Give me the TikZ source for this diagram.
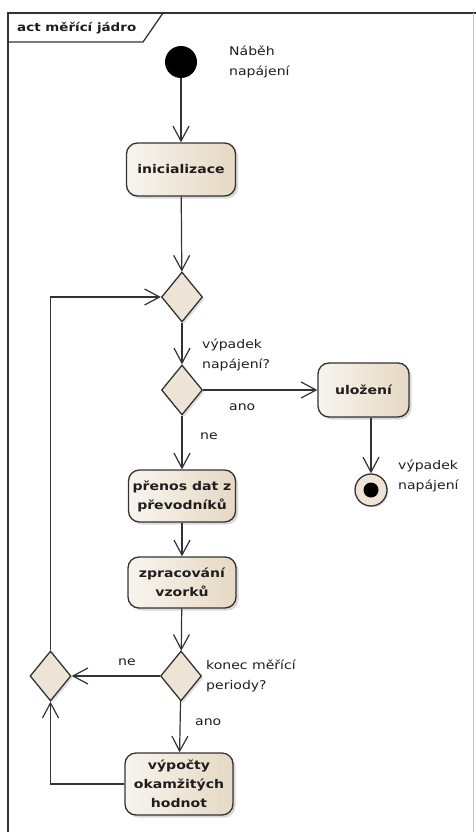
\documentclass[tikz,border=0pt]{standalone}
\usepackage{fontspec}
\setmainfont{DejaVu Sans}[FakeStretch=1.17]
\usetikzlibrary{arrows.meta,shapes.geometric,shadows}

\definecolor{actlight}{HTML}{F8F4EE}
\definecolor{actdark}{HTML}{E6D9C4}
\definecolor{actfill}{HTML}{EEE4D5}
\definecolor{edgecol}{HTML}{333333}
\definecolor{ink}{HTML}{1E1E1E}

\tikzset{
  action/.style={rectangle, rounded corners=11pt, draw=edgecol, line width=1.3pt,
    left color=actlight, right color=actdark,
    drop shadow={shadow xshift=2.5pt, shadow yshift=-2.5pt, opacity=.3},
    font=\bfseries\fontsize{12}{19}\selectfont, align=center, text=ink, inner sep=0pt},
  decision/.style={diamond, draw=edgecol, line width=1.3pt, fill=actfill,
    drop shadow={shadow xshift=2pt, shadow yshift=-2pt, opacity=.25},
    minimum width=41pt, minimum height=50pt, inner sep=0pt},
  initnode/.style={circle, fill=black, minimum size=32pt, inner sep=0pt},
  finalnode/.style={circle, draw=edgecol, line width=1.3pt, fill=actfill,
    drop shadow={shadow xshift=1.5pt, shadow yshift=-1.5pt, opacity=.25},
    minimum size=32pt, inner sep=0pt},
  flow/.style={draw=edgecol, line width=1.2pt,
    -{Straight Barb[length=15pt,width=16pt,line width=1.2pt]}},
  lbl/.style={font=\fontsize{12}{20.5}\selectfont, text=ink, align=left,
    inner sep=0pt, anchor=west},
  frametitle/.style={font=\bfseries\fontsize{11.5}{13}\selectfont, text=ink,
    inner sep=0pt, anchor=west}
}

\begin{document}
\begin{tikzpicture}[x=1pt,y=-1pt]
\useasboundingbox (0,0) rectangle (476,832);

% activity frame with its name tab
\begin{scope}
  \clip (0,0) rectangle (476,832);
  \draw[edgecol, line width=1.6pt] (8,840) -- (8,13) -- (478,13);
  \draw[gray!45, line width=0.8pt] (473,13) -- (473,840);
  \draw[edgecol, line width=1.3pt] (8,42) -- (143,42) -- (163,13);
\end{scope}
\node[frametitle] (ttl) at (17,28) {act měřící jádro};

% nodes of the activity
\node[initnode] (start) at (181,62) {};
\node[action, minimum width=109pt, minimum height=53pt] (init) at (181,169.5) {inicializace};
\node[decision] (m1) at (182,297) {};
\node[decision] (d1) at (182,390) {};
\node[action, minimum width=91pt, minimum height=54pt] (ulo) at (363.5,390) {uložení};
\node[finalnode] (fin) at (371,490) {};
\fill[black] (fin.center) circle (7.5);
\node[action, minimum width=107pt, minimum height=52pt] (prenos) at (182,496) {přenos dat z\\převodníků};
\node[action, minimum width=108pt, minimum height=51pt] (zprac) at (182,582.5) {zpracování\\vzorků};
\node[decision] (d2) at (181,676) {};
\node[decision] (m2) at (50.5,676) {};
\node[action, minimum width=108pt, minimum height=62pt] (vyp) at (179,784) {výpočty\\okamžitých\\hodnot};

% labels
\node[lbl] (lstart) at (229,62) {Náběh\\napájení};
\node[lbl] (ld1) at (202,355) {výpadek\\napájení?};
\node[lbl] (lano1) at (229,407) {ano};
\node[lbl] (lne1) at (200,436) {ne};
\node[lbl] (lfin) at (398,476) {výpadek\\napájení};
\node[lbl] (lne2) at (118,662) {ne};
\node[lbl] (ld2) at (206,676) {konec měřící\\periody?};
\node[lbl] (lano2) at (195,722) {ano};

% control flows
\draw[flow] (start) -- (init);
\draw[flow] (init) -- (m1);
\draw[flow] (m1) -- (d1);
\draw[flow] (d1) -- (ulo);
\draw[flow] (ulo.south -| fin) -- (fin);
\draw[flow] (d1) -- (prenos);
\draw[flow] (prenos) -- (zprac);
\draw[flow] (zprac) -- (d2);
\draw[flow] (d2) -- (m2);
\draw[flow] (d2) -- (vyp);
\draw[flow] (vyp.west) -| (m2.south);
\draw[flow] (m2.north) |- (m1.west);
\end{tikzpicture}
\end{document}
